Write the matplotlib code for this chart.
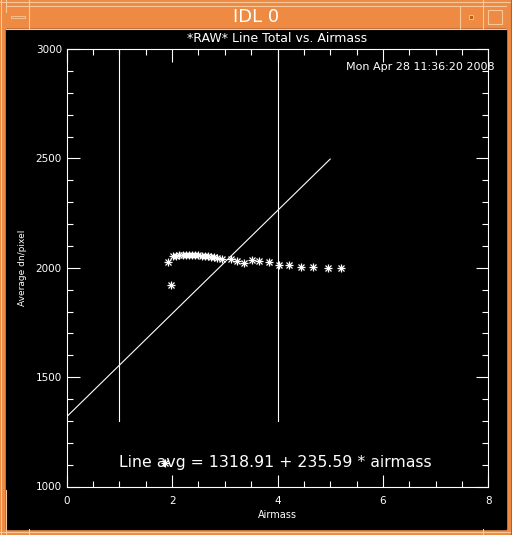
import matplotlib
matplotlib.use('Agg')
import matplotlib.pyplot as plt
from matplotlib.patches import Rectangle

# data
airmass = [1.93, 1.98, 2.02, 2.08, 2.14, 2.20, 2.26, 2.32, 2.38, 2.44, 2.50, 2.56,
           2.62, 2.68, 2.74, 2.80, 2.86, 2.95, 3.11, 3.24, 3.37, 3.51, 3.65, 3.83,
           4.02, 4.21, 4.44, 4.68, 4.95, 5.21]
line_total = [2025, 1921, 2052, 2055, 2057, 2058, 2059, 2060, 2060, 2059, 2058, 2056,
              2054, 2052, 2050, 2047, 2045, 2041, 2040, 2031, 2020, 2034, 2029, 2025,
              2012, 2012, 2002, 2002, 1997, 1997]
intercept = 1318.91
slope = 235.59
fit_x = [0, 5]
cut_x = [1, 4]
cut_y = [1300, 3000]
stray_pt = (1.87, 1109)

W, H = 512, 535
orange = '#ee8a42'
light = '#f9c89a'
dark = '#b8601e'

fig = plt.figure(figsize=(W / 100, H / 100), dpi=100, facecolor=orange)

# window frame drawn in pixel coords
fr = fig.add_axes([0, 0, 1, 1])
fr.set_xlim(0, W)
fr.set_ylim(H, 0)
fr.axis('off')
fr.add_patch(Rectangle((6, 29), 500, 500, color='black', zorder=1))
for y in [1.5, 6, 28.5]:
    fr.plot([6 if y > 2 else 0, 506 if y > 2 else W], [y, y], color=light, lw=0.8)
fr.plot([1, 1], [0, H], color=light, lw=0.8)
fr.plot([0, W], [532, 532], color=light, lw=0.8)
fr.plot([W - 1, W - 1], [0, H], color=dark, lw=0.8)
for x in [29, 460, 483]:
    fr.plot([x, x], [6, 28], color=light, lw=0.8)
for x in [29, 483]:
    fr.plot([x, x], [0, 6], color=light, lw=0.8)
    fr.plot([x, x], [529, H], color=light, lw=0.8)
fr.plot([6, 6], [0, 12], color=light, lw=0.8)
fr.plot([6, 6], [490, 535], color=light, lw=0.8)
fr.add_patch(Rectangle((11, 15.5), 14, 2.5, facecolor=orange, edgecolor=light, lw=0.6))
fr.add_patch(Rectangle((469, 15), 4, 4, facecolor=dark, edgecolor=light, lw=0.6))
fr.add_patch(Rectangle((488, 10), 14, 14, facecolor=orange, edgecolor=light, lw=0.8))
fr.text(256, 17, 'IDL 0', color='white', fontsize=13, ha='center', va='center')

# plot area
ax = fig.add_axes([66.7 / W, 48.5 / H, 421.6 / W, 437.5 / H])
ax.set_facecolor('black')
ax.plot(airmass, line_total, ls='none', marker='+', ms=5.5, mew=0.9, color='white')
ax.plot(airmass, line_total, ls='none', marker='x', ms=4, mew=0.9, color='white')
ax.plot([stray_pt[0]], [stray_pt[1]], marker='+', ms=5.5, mew=0.9, color='white')
ax.plot([stray_pt[0]], [stray_pt[1]], marker='x', ms=4, mew=0.9, color='white')
ax.plot(fit_x, [intercept + slope * x for x in fit_x], color='white', lw=0.8)
for x in cut_x:
    ax.plot([x, x], cut_y, color='white', lw=0.8)

ax.set_xlim(0, 8)
ax.set_ylim(1000, 3000)
ax.set_xticks([0, 2, 4, 6, 8])
ax.set_xticks([0.5 * i for i in range(17)], minor=True)
ax.set_yticks([1000, 1500, 2000, 2500, 3000])
ax.set_yticks(list(range(1000, 3001, 100)), minor=True)
ax.tick_params(which='both', direction='in', colors='white', top=True, right=True,
               labelsize=7.5, width=0.8)
ax.tick_params(which='major', length=9)
ax.tick_params(which='minor', length=4)
ax.tick_params(axis='x', pad=7)
for s in ax.spines.values():
    s.set_color('white')
    s.set_linewidth(0.8)
ax.set_xlabel('Airmass', color='white', fontsize=7, labelpad=3)
ax.set_ylabel('Average dn/pixel', color='white', fontsize=6.5, labelpad=6)

fig.text(277 / W, 1 - 38 / H, '*RAW* Line Total vs. Airmass', color='white',
         fontsize=9, ha='center', va='center')
fig.text(495 / W, 1 - 67 / H, 'Mon Apr 28 11:36:20 2008', color='white',
         fontsize=8, ha='right', va='center')
fig.text(275 / W, 1 - 462 / H, 'Line avg = %.2f + %.2f * airmass' % (intercept, slope),
         color='white', fontsize=11.3, ha='center', va='center')

fig.savefig('out.png', dpi=100, facecolor=orange)
